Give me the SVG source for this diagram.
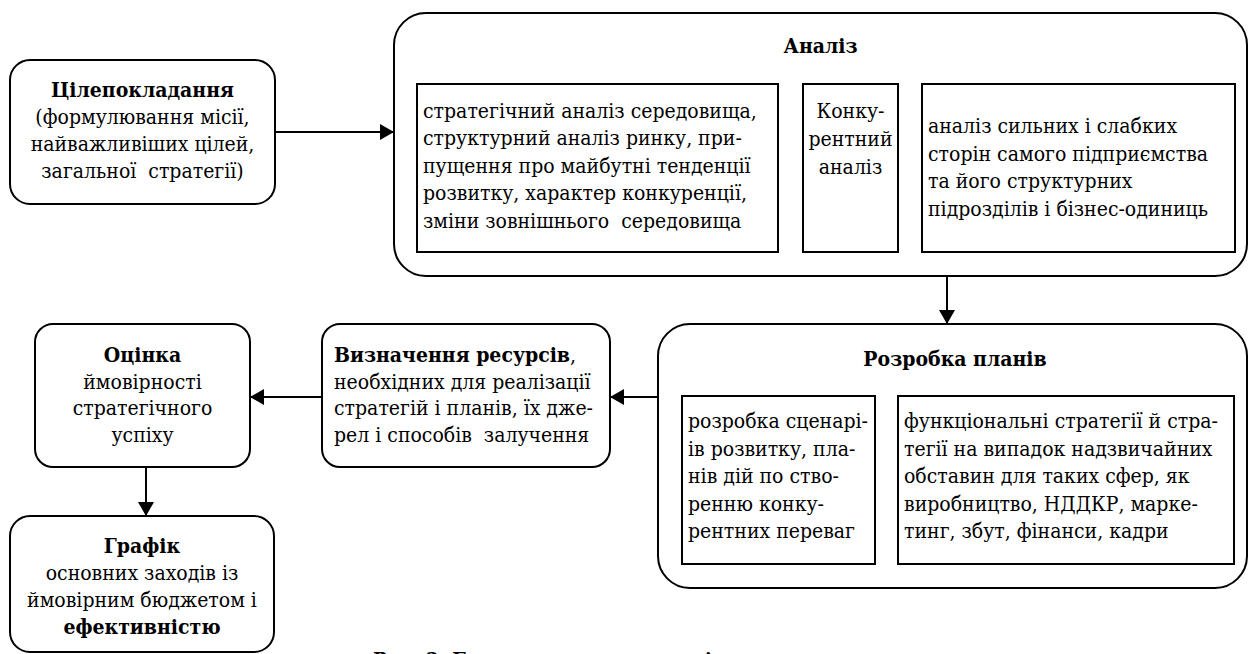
<svg xmlns="http://www.w3.org/2000/svg" width="1249" height="654" viewBox="0 0 1249 654">
<defs>
<marker id="arr" viewBox="0 0 14 16" refX="14" refY="8" markerWidth="14" markerHeight="16" markerUnits="userSpaceOnUse" orient="auto">
<path d="M0,0 L14,8 L0,16 Z" fill="#000"/>
</marker>
</defs>
<style>
text{font-family:'DejaVu Serif Condensed','DejaVu Serif',serif;font-stretch:condensed;font-size:21px;fill:#000}
.b{font-weight:bold}
.c{text-anchor:middle}
.box{fill:#fff;stroke:#000;stroke-width:2}
.in{fill:none;stroke:#000;stroke-width:2}
.con{stroke:#000;stroke-width:2;fill:none}
</style>
<rect width="1249" height="654" fill="#fff"/>

<g id="goal">
<rect class="box" x="10" y="60" width="265" height="144" rx="20"/>
<text class="c" x="142.5"><tspan class="b" x="142.5" y="97">Цілепокладання</tspan><tspan x="142.5" y="124">(формулювання місії,</tspan><tspan x="142.5" y="151">найважливіших цілей,</tspan><tspan x="142.5" y="178" xml:space="preserve">загальної  стратегії)</tspan></text>
</g>

<g id="analysis">
<rect class="box" x="394" y="13" width="853" height="263" rx="32"/>
<text class="b c" x="820.5" y="53">Аналіз</text>
<g id="env">
<rect class="in" x="417" y="84" width="361" height="168"/>
<text x="423"><tspan x="423" y="117.5">стратегічний аналіз середовища,</tspan><tspan x="423" y="145">структурний аналіз ринку, при-</tspan><tspan x="423" y="172.7">пущення про майбутні тенденції</tspan><tspan x="423" y="200.3">розвитку, характер конкуренції,</tspan><tspan x="423" y="228" xml:space="preserve">зміни зовнішнього  середовища</tspan></text>
</g>
<g id="competitor">
<rect class="in" x="803" y="84" width="95" height="168"/>
<text class="c"><tspan x="850.5" y="118">Конку-</tspan><tspan x="850.5" y="146">рентний</tspan><tspan x="850.5" y="174">аналіз</tspan></text>
</g>
<g id="swot">
<rect class="in" x="922" y="84" width="313" height="168"/>
<text><tspan x="928" y="133">аналіз сильних і слабких</tspan><tspan x="928" y="160.5">сторін самого підприємства</tspan><tspan x="928" y="188">та його структурних</tspan><tspan x="928" y="215.5">підрозділів і бізнес-одиниць</tspan></text>
</g>
</g>

<g id="plans">
<rect class="box" x="658" y="324" width="589" height="264" rx="32"/>
<text class="b c" x="955" y="366">Розробка планів</text>
<g id="scenarios">
<rect class="in" x="682" y="396" width="193" height="168"/>
<text><tspan x="688" y="428">розробка сценарі-</tspan><tspan x="688" y="455.5">ів розвитку, пла-</tspan><tspan x="688" y="483">нів дій по ство-</tspan><tspan x="688" y="510.5">ренню конку-</tspan><tspan x="688" y="538">рентних переваг</tspan></text>
</g>
<g id="functional">
<rect class="in" x="898" y="396" width="336" height="168"/>
<text><tspan x="904" y="428">функціональні стратегії й стра-</tspan><tspan x="904" y="455.5">тегії на випадок надзвичайних</tspan><tspan x="904" y="483">обставин для таких сфер, як</tspan><tspan x="904" y="510.5">виробництво, НДДКР, марке-</tspan><tspan x="904" y="538">тинг, збут, фінанси, кадри</tspan></text>
</g>
</g>

<g id="resources">
<rect class="box" x="322" y="324" width="288" height="143" rx="18"/>
<text><tspan x="334" y="362"><tspan class="b">Визначення ресурсів</tspan>,</tspan><tspan x="334" y="389">необхідних для реалізації</tspan><tspan x="334" y="415">стратегій і планів, їх дже-</tspan><tspan x="334" y="442" xml:space="preserve">рел і способів  залучення</tspan></text>
</g>

<g id="evaluation">
<rect class="box" x="35" y="324" width="215" height="143" rx="18"/>
<text class="c"><tspan class="b" x="142.5" y="362">Оцінка</tspan><tspan x="142.5" y="389">ймовірності</tspan><tspan x="142.5" y="415">стратегічного</tspan><tspan x="142.5" y="442">успіху</tspan></text>
</g>

<g id="schedule">
<rect class="box" x="10" y="516" width="264" height="136" rx="20"/>
<text class="c"><tspan class="b" x="142" y="553">Графік</tspan><tspan x="142" y="580">основних заходів із</tspan><tspan x="142" y="607">ймовірним бюджетом і</tspan><tspan class="b" x="142" y="634">ефективністю</tspan></text>
</g>

<g id="connectors">
<line class="con" x1="275" y1="132" x2="394" y2="132" marker-end="url(#arr)"/>
<line class="con" x1="947" y1="276" x2="947" y2="324" marker-end="url(#arr)"/>
<line class="con" x1="658" y1="397" x2="610" y2="397" marker-end="url(#arr)"/>
<line class="con" x1="322" y1="397" x2="250" y2="397" marker-end="url(#arr)"/>
<line class="con" x1="146" y1="467" x2="146" y2="516" marker-end="url(#arr)"/>
</g>

<text class="b" x="373" y="666.5">Рис. 2. Етапи процесу стратегічного планування</text>
</svg>
